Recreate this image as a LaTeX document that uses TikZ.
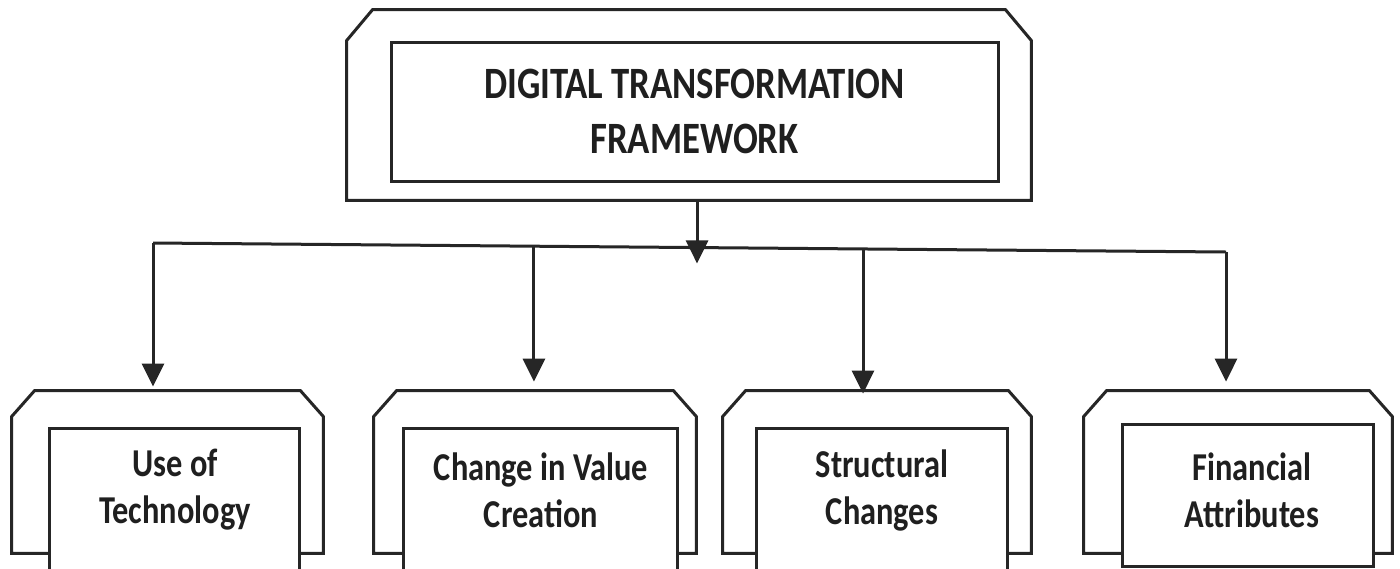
\documentclass[tikz,border=0pt]{standalone}
\usepackage{fontspec}
\setmainfont{Carlito}
\newfontfamily\lblfont[FakeStretch=0.82]{Carlito}
\usetikzlibrary{arrows.meta,calc}
\newcommand\chamfbox[3]{%
  \draw[line, fill=white] (#1.south west) -- ($(#1.north west)+(0,#3)$) -- ($(#1.north west)+(#2,0)$)
    -- ($(#1.north east)+(-#2,0)$) -- ($(#1.north east)+(0,#3)$) -- (#1.south east) -- cycle;}
\begin{document}
\begin{tikzpicture}[x=0.5pt,y=-0.5pt,
  line/.style={line width=1.5pt, draw=black!85},
  outerbox/.style={rectangle, inner sep=0pt},
  innerbox/.style={line, rectangle, inner sep=0pt, fill=white},
  toplbl/.style={font=\lblfont\bfseries\fontsize{22.4pt}{27.5pt}\selectfont, align=center, text=black!88},
  lbl/.style={font=\lblfont\bfseries\fontsize{19.75pt}{23.5pt}\selectfont, align=center, text=black!88, inner sep=0pt},
  arr/.style={line, -{Triangle[length=11.5pt,width=11pt]}}]
\clip (0,0) rectangle (1400,568);
\fill[white] (0,0) rectangle (1400,568);
% top
\node[outerbox, minimum width=342pt, minimum height=95pt] (top) at (689,105) {};
\chamfbox{top}{26}{31}
\node[innerbox, minimum width=303.5pt, minimum height=69.5pt, toplbl] (topin) at (694.5,111.5) {DIGITAL TRANSFORMATION\\FRAMEWORK};
% bottom outer boxes
\tikzset{bout/.style={outerbox, minimum height=81pt}}
\node[bout, minimum width=155.5pt] (b1o) at (167.5,472) {};
\node[bout, minimum width=161pt] (b2o) at (535,472) {};
\node[bout, minimum width=154pt] (b3o) at (877,472) {};
\node[bout, minimum width=154pt] (b4o) at (1238,472) {};
\chamfbox{b1o}{23}{26}
\chamfbox{b2o}{23}{26}
\chamfbox{b3o}{23}{26}
\chamfbox{b4o}{23}{26}
% inner boxes
\node[innerbox, minimum width=125pt, minimum height=71pt] (b1i) at (174,499) {};
\node[innerbox, minimum width=137pt, minimum height=71pt] (b2i) at (540,499) {};
\node[innerbox, minimum width=125.5pt, minimum height=71pt] (b3i) at (881.5,499) {};
\node[innerbox, minimum width=125.5pt, minimum height=71pt] (b4i) at (1247.5,495) {};
% labels
\node[lbl] (t1) at (175,490) {Use of\\Technology};
\node[lbl] (t2) at (541,490) {Change in Value\\Creation};
\node[lbl] (t3) at (882,490) {Structural\\Changes};
\node[lbl] (t4) at (1252,490) {Financial\\Attributes};
% connectors
\coordinate (barL) at (153,243);
\coordinate (barR) at (1226,252);
\coordinate (j2) at ($(barL)!0.355!(barR)$);
\coordinate (j3) at ($(barL)!0.6617!(barR)$);
\draw[line] (barL) -- (barR);
\draw[arr] ([xshift=4pt]top.south) -- ++(0,63);
\draw[arr] (barL) -- ($(barL |- b1o.north)+(0,-4)$);
\draw[arr] (j2) -- ($(j2 |- b2o.north)+(0,-9)$);
\draw[arr] (j3) -- ($(j3 |- b3o.north)+(0,3)$);
\draw[arr] (barR) -- ($(barR |- b4o.north)+(0,-9)$);
\end{tikzpicture}
\end{document}
